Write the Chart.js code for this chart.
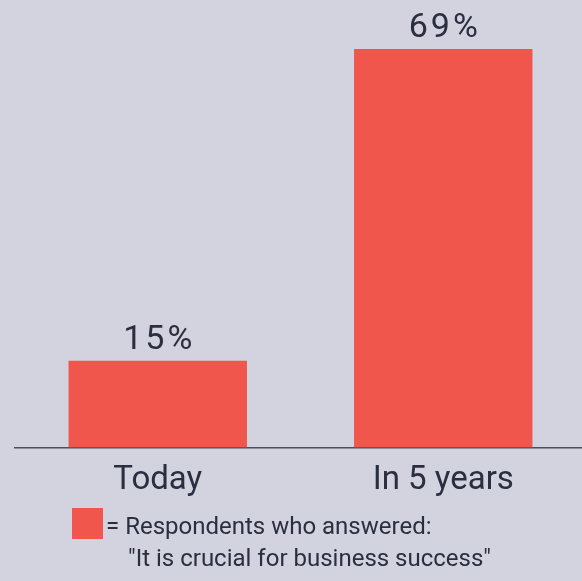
<!DOCTYPE html>
<html>
<head>
<meta charset="utf-8">
<script src="https://cdn.jsdelivr.net/npm/chart.js@4/dist/chart.umd.min.js"></script>
<style>
  html, body {
    margin: 0;
    padding: 0;
    background: #d2d3df;
    overflow: hidden;
  }
  #wrap {
    position: relative;
    width: 586px;
    height: 581px;
  }
  #legend {
    position: absolute;
    left: 72px;
    top: 508px;
    font-family: Roboto, sans-serif;
    font-size: 24px;
    line-height: 32px;
    color: #2a2e40;
  }
  #legend .swatch {
    position: absolute;
    left: 0;
    top: 0;
    width: 31px;
    height: 31px;
    background: #f0564b;
  }
  #legend .line1 {
    position: absolute;
    left: 34px;
    top: 2px;
    white-space: nowrap;
  }
  #legend .line2 {
    position: absolute;
    left: 56px;
    top: 34px;
    white-space: nowrap;
  }
</style>
</head>
<body>
<div id="wrap">
  <canvas id="chart-canvas" width="586" height="581"></canvas>
  <div id="legend">
    <div class="swatch"></div>
    <div class="line1"></div>
    <div class="line2"></div>
  </div>
</div>
<script>
const categories = ['Today', 'In 5 years'];
const shares = [15, 69];
const legendLines = ['= Respondents who answered:', '"It is crucial for business success"'];

const barColor = '#f0564b';
const textColor = '#2a2e40';

// writes the percentage above each bar
const valueLabels = {
  id: 'valueLabels',
  afterDatasetsDraw(chart) {
    const ctx = chart.ctx;
    const meta = chart.getDatasetMeta(0);
    ctx.save();
    ctx.font = '34px Roboto, sans-serif';
    ctx.letterSpacing = '3px';
    ctx.fillStyle = textColor;
    ctx.textAlign = 'center';
    ctx.textBaseline = 'alphabetic';
    meta.data.forEach((bar, i) => {
      const value = chart.data.datasets[0].data[i];
      ctx.fillText(value + '%', bar.x + 1.5, bar.y - 12);
    });
    ctx.restore();
  },
};

function createChart() {
  const canvas = document.getElementById('chart-canvas');

  document.querySelector('#legend .line1').textContent = legendLines[0];
  document.querySelector('#legend .line2').textContent = legendLines[1];

  const options = {
    type: 'bar',
    data: {
      labels: categories,
      datasets: [
        {
          label: legendLines.join(' '),
          data: shares,
          backgroundColor: barColor,
          borderWidth: 0,
          barPercentage: 0.625,
          categoryPercentage: 1,
        },
      ],
    },
    options: {
      responsive: false,
      animation: false,
      layout: {
        padding: { left: 15, right: 0, top: 0, bottom: 74 },
      },
      plugins: {
        legend: { display: false },
        tooltip: { enabled: false },
      },
      scales: {
        x: {
          grid: { display: false },
          border: { display: true, color: '#4b4c5e', width: 1.5 },
          ticks: {
            color: textColor,
            padding: 6,
            font: { family: 'Roboto, sans-serif', size: 33 },
          },
        },
        y: {
          display: false,
          min: 0,
          max: 77.5,
        },
      },
    },
    plugins: [valueLabels],
  };

  const chart = new Chart(canvas, options);
}

document.addEventListener('DOMContentLoaded', createChart);
</script>
</body>
</html>
